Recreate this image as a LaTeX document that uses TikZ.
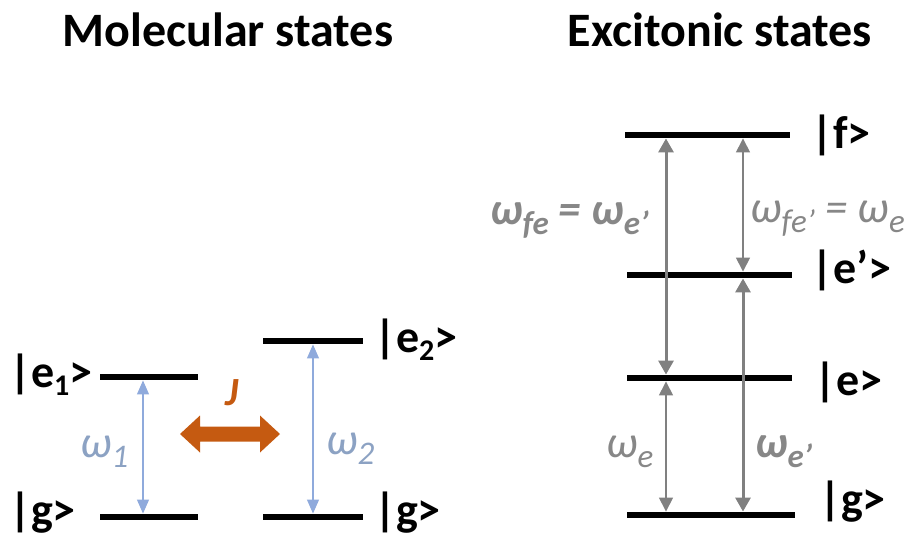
\documentclass[tikz,border=0pt]{standalone}
\usepackage{fontspec}
\setmainfont{Carlito}
\usetikzlibrary{arrows.meta}
\definecolor{molblue}{RGB}{143,170,220}
\definecolor{molbluetxt}{RGB}{140,162,195}
\definecolor{exgray}{RGB}{128,128,128}
\definecolor{exgraytxt}{RGB}{135,135,135}
\definecolor{jorange}{RGB}{197,90,17}
\newcommand\sbs[2][10pt]{\raisebox{-#1}{\fontsize{33}{33}\selectfont #2}}
\newcommand\ksub[1]{\raisebox{-8pt}{\fontsize{30}{30}\selectfont #1}}
\begin{document}
\begin{tikzpicture}[x=1pt,y=-1pt,
  lvl/.style={fill=black,inner sep=0pt,minimum height=6.5pt,draw=none},
  title/.style={font=\fontsize{48}{52}\selectfont\bfseries,inner sep=0pt,anchor=base},
  ket/.style={font=\fontsize{46}{48}\selectfont\bfseries,inner sep=0pt,anchor=base west},
  omb/.style={font=\fontsize{45}{46}\selectfont\itshape,text=molbluetxt,inner sep=0pt,anchor=base west},
  omg/.style={font=\fontsize{45}{46}\selectfont\itshape,text=exgraytxt,inner sep=0pt,anchor=base west},
  omgb/.style={font=\fontsize{45}{46}\selectfont\bfseries\itshape,text=exgraytxt,inner sep=0pt,anchor=base west},
  bluearr/.style={draw=molblue,line width=1.2pt,arrows={Triangle[width=12pt,length=14pt]-Triangle[width=12pt,length=14pt]}},
  graythick/.style={draw=exgray,line width=3pt,arrows={Triangle[width=15pt,length=14pt]-Triangle[width=15pt,length=14pt]}},
  graythin/.style={draw=exgray,line width=1.5pt,arrows={Triangle[width=14pt,length=14pt]-Triangle[width=14pt,length=14pt]}}
]
\useasboundingbox (0,0) rectangle (908,536);

% titles
\node[title] (t1) at (228,46) {Molecular states};
\node[title] (t2) at (720,46) {Excitonic states};

% molecular levels
\node[lvl,minimum width=98pt] (e1) at (149,377) {};
\node[lvl,minimum width=98pt] (g1) at (149,517) {};
\node[lvl,minimum width=100pt] (e2) at (313,341) {};
\node[lvl,minimum width=100pt] (g2) at (313,517) {};

% excitonic levels
\node[lvl,minimum width=165pt] (f) at (707.5,135) {};
\node[lvl,minimum width=165pt] (ep) at (709.5,275) {};
\node[lvl,minimum width=165pt] (e) at (709.5,378) {};
\node[lvl,minimum width=168pt] (g) at (711,515) {};

% arrow columns
\coordinate (xa) at (143,0);
\coordinate (xb) at (313,0);
\coordinate (xc) at (666,0);
\coordinate (xd) at (743,0);

\draw[bluearr] (e1.south -| xa) -- (g1.north -| xa);
\draw[bluearr] (e2.south -| xb) -- (g2.north -| xb);
\draw[graythick] (f.south -| xc) -- (e.north -| xc);
\draw[graythin] (e.south -| xc) -- (g.north -| xc);
\draw[graythin] (f.south -| xd) -- (ep.north -| xd);
\draw[graythick] (ep.south -| xd) -- (g.north -| xd);

% coupling arrow
\fill[jorange] (180,434) -- (200,415.5) -- (200,426.5) -- (260,426.5) -- (260,415.5)
  -- (280,434) -- (260,452.5) -- (260,441.5) -- (200,441.5) -- (200,452.5) -- cycle;
\node[font=\fontsize{40}{42}\selectfont\bfseries\itshape,text=jorange,anchor=base,inner sep=0pt] (J) at (232,405) {J};

% frequency labels
\node[omb] (w1) at (80,457) {ω\sbs{1}};
\node[omb] (w2) at (326,454) {ω\sbs{2}};
\node[omgb] (wfe) at (490,224) {ω\sbs{fe} = ω\sbs{e’}};
\node[omg] (wfep) at (750,222) {ω\sbs{fe’} = ω\sbs{e}};
\node[omg] (we) at (606,457) {ω\sbs{e}};
\node[omgb] (wep) at (755,457) {ω\sbs{e’}};

% state labels
\node[ket] (le1) at (9,387) {|e\ksub{1}>};
\node[ket] (lg1) at (9,525) {|g>};
\node[ket] (le2) at (374,352) {|e\ksub{2}>};
\node[ket] (lg2) at (374,525) {|g>};
\node[ket] (lf) at (811,148) {|f>};
\node[ket] (lep) at (811,283) {|e’>};
\node[ket] (le) at (814,395) {|e>};
\node[ket] (lg) at (819,514) {|g>};
\end{tikzpicture}
\end{document}
